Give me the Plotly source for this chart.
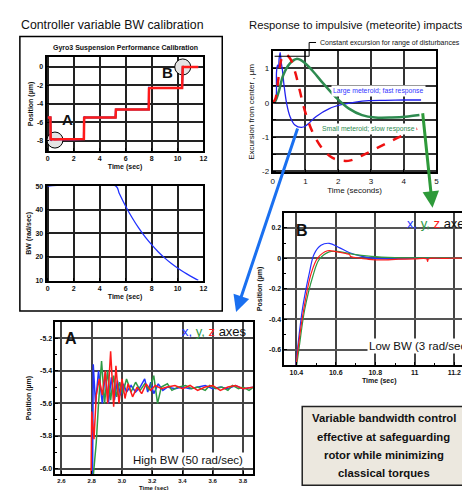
import plotly.graph_objects as go

W, H = 470, 490
AF = "Liberation Sans, Arial, sans-serif"

BLUE = "#2233ff"
GREEN = "#2e9a44"
RED = "#ff1a1a"

# ---------------- Panel 1: calibration steps ----------------
calib_t = [0, 0.2, 0.22, 0.3, 0.5, 1.0, 2.0, 2.78, 2.8, 2.85, 3.5, 4.5, 5.22, 5.25, 5.3, 6.5, 7.78, 7.8, 7.85, 9.0, 10.35, 10.4, 10.45, 11.6]
calib_x = [-5.45, -5.45, -7.95, -7.85, -7.8, -7.82, -7.85, -7.8, -5.35, -5.45, -5.45, -5.47, -5.45, -4.55, -4.6, -4.6, -4.6, -2.25, -2.27, -2.28, -2.27, 0.05, 0, 0]
calib_y = [-5.45, -5.45, -7.9, -7.75, -7.82, -7.8, -7.8, -7.8, -5.45, -5.45, -5.46, -5.45, -5.45, -4.6, -4.6, -4.6, -4.6, -2.3, -2.27, -2.27, -2.27, 0.1, 0, 0]
calib_z = [-5.45, -5.45, -7.9, -7.8, -7.85, -7.8, -7.82, -7.8, -5.4, -5.45, -5.45, -5.48, -5.45, -4.6, -4.6, -4.6, -4.6, -2.3, -2.27, -2.28, -2.27, 0, 0, 0]
calib_xticks = [0, 2, 4, 6, 8, 10, 12]
calib_yticks = [0, -2, -4, -6, -8]

# ---------------- Panel 2: bandwidth schedule ----------------
bw_t = [0, 5.25, 5.5, 6, 6.5, 7, 7.5, 8, 8.5, 9, 9.5, 10, 10.5, 11, 11.6]
bw_v = [50, 50, 47, 41.5, 36.6, 32.3, 28.5, 25.2, 22.2, 19.6, 17.3, 15.3, 13.5, 11.9, 10.1]
bw_yticks = [10, 20, 30, 40, 50]

# ---------------- Panel 3: meteorite impacts ----------------
met_t_fast = [0, 0.08, 0.12, 0.15, 0.18, 0.2, 0.23, 0.26, 0.3, 0.35, 0.43, 0.53, 0.68, 0.88, 1.03, 1.33, 1.73, 2.13, 2.53, 2.93, 3.43, 4.0, 4.53]
met_fast = [0, 0.02, 0.9, 1.1, 1.05, 1.3, 1.46, 1.2, 0.95, 0.5, -0.03, -0.4, -0.65, -0.72, -0.66, -0.4, -0.17, -0.05, 0.02, 0.06, 0.07, 0.08, 0.08]
met_t_slow = [0, 0.08, 0.18, 0.33, 0.53, 0.73, 0.93, 1.23, 1.53, 1.93, 2.33, 2.73, 3.13, 3.63, 4.13, 4.48]
met_slow = [0, 0.05, 0.3, 0.82, 1.15, 1.28, 1.2, 0.92, 0.58, 0.16, -0.17, -0.36, -0.43, -0.43, -0.4, -0.36]
met_t_mid = [0, 0.08, 0.18, 0.28, 0.38, 0.53, 0.68, 0.83, 0.98, 1.23, 1.53, 1.83, 2.13, 2.38, 2.73, 3.13, 3.63, 4.13, 4.53]
met_mid = [0, 0.1, 0.73, 1.3, 1.42, 1.3, 0.92, 0.35, -0.22, -0.88, -1.35, -1.61, -1.69, -1.68, -1.54, -1.35, -1.11, -0.88, -0.69]
met_xticks = [0, 1, 2, 3, 4, 5]
met_ygrid = [1.5, 1, 0.5, 0, -0.5, -1, -1.5, -2]
met_ylabels = ["", "1", "", "0", "", "-1", "", "-2"]

# ---------------- Panel B: low bandwidth response ----------------
b_tx = [10.397, 10.41, 10.433, 10.467, 10.49, 10.525, 10.567, 10.617, 10.667, 10.733, 10.8, 10.9, 11.0, 11.1, 11.2, 11.3]
b_x = [-0.72, -0.55, -0.316, -0.09, 0.028, 0.086, 0.099, 0.071, 0.039, 0.013, 0.0, -0.003, 0.0, 0.0, 0.0, 0.0]
b_ty = [10.4, 10.415, 10.442, 10.483, 10.517, 10.567, 10.617, 10.683, 10.78, 10.9, 11.0, 11.1, 11.2, 11.3]
b_y = [-0.72, -0.58, -0.34, -0.12, -0.005, 0.043, 0.045, 0.028, 0.013, 0.005, 0.003, 0.004, 0.002, 0.003]
b_tz = [10.398, 10.412, 10.437, 10.475, 10.508, 10.558, 10.6, 10.65, 10.67, 10.675, 10.7, 10.767, 10.833, 10.917, 11.0, 11.06, 11.065, 11.07, 11.15, 11.25, 11.255, 11.3]
b_z = [-0.72, -0.56, -0.34, -0.1, 0.002, 0.05, 0.045, 0.032, 0.025, 0.012, 0.006, -0.006, -0.01, -0.005, -0.003, -0.003, -0.02, -0.003, 0.0, -0.002, -0.012, 0.0]
b_xticks = [10.4, 10.6, 10.8, 11, 11.2]
b_xlabels = ["10.4", "10.6", "10.8", "11", "11.2"]
b_yticks = [0.2, 0, -0.2, -0.4, -0.6]
b_ylabels = ["0.2", "0", "-0.2", "-0.4", "-0.6"]

# ---------------- Panel A: high bandwidth response ----------------
a_tx = [2.795, 2.805, 2.81, 2.825, 2.845, 2.87, 2.89, 2.91, 2.93, 2.95, 2.97, 2.99, 3.01, 3.03, 3.06, 3.09, 3.12, 3.15, 3.17, 3.19, 3.21, 3.24, 3.27, 3.3, 3.35, 3.4, 3.45, 3.5, 3.55, 3.6, 3.65, 3.7, 3.75, 3.8, 3.87]
a_x = [-6.1, -6.1, -5.36, -5.6, -5.4, -5.6, -5.41, -5.6, -5.44, -5.58, -5.46, -5.55, -5.48, -5.53, -5.49, -5.53, -5.5, -5.45, -5.53, -5.47, -5.54, -5.48, -5.52, -5.5, -5.51, -5.5, -5.51, -5.5, -5.49, -5.51, -5.5, -5.51, -5.49, -5.51, -5.5]
a_ty = [2.805, 2.815, 2.83, 2.845, 2.865, 2.885, 2.905, 2.925, 2.945, 2.965, 2.985, 3.005, 3.03, 3.06, 3.09, 3.12, 3.15, 3.18, 3.21, 3.235, 3.26, 3.3, 3.33, 3.37, 3.42, 3.46, 3.5, 3.55, 3.58, 3.62, 3.66, 3.7, 3.73, 3.77, 3.8, 3.84, 3.87]
a_y = [-6.1, -6.0, -5.84, -5.6, -5.34, -5.6, -5.4, -5.58, -5.43, -5.56, -5.47, -5.54, -5.45, -5.53, -5.47, -5.52, -5.48, -5.52, -5.43, -5.6, -5.5, -5.48, -5.52, -5.5, -5.49, -5.51, -5.5, -5.52, -5.49, -5.51, -5.5, -5.52, -5.49, -5.51, -5.5, -5.52, -5.5]
a_tz = [2.795, 2.8, 2.815, 2.83, 2.85, 2.87, 2.89, 2.905, 2.925, 2.945, 2.96, 2.98, 3.0, 3.02, 3.04, 3.07, 3.1, 3.13, 3.16, 3.19, 3.22, 3.26, 3.3, 3.35, 3.4, 3.45, 3.5, 3.55, 3.6, 3.65, 3.7, 3.75, 3.8, 3.87]
a_z = [-6.1, -5.65, -5.82, -5.55, -5.45, -5.55, -5.4, -5.6, -5.28, -5.62, -5.37, -5.6, -5.45, -5.57, -5.48, -5.56, -5.5, -5.54, -5.48, -5.52, -5.49, -5.51, -5.5, -5.49, -5.51, -5.49, -5.52, -5.5, -5.49, -5.52, -5.5, -5.49, -5.51, -5.5]
a_xticks = [2.6, 2.8, 3.0, 3.2, 3.4, 3.6, 3.8]
a_xlabels = ["2.6", "2.8", "3.0", "3.2", "3.4", "3.6", "3.8"]
a_yticks = [-5.2, -5.4, -5.6, -5.8, -6.0]
a_ylabels = ["-5.2", "-5.4", "-5.6", "-5.8", "-6.0"]

conclusion_lines = ["Variable bandwidth control", "effective at safeguarding",
                    "rotor while minimizing", "classical torques"]


def px(x):
    return x / W


def py(y):
    return 1 - y / H


fig = go.Figure()


def add(x, y, ax, color, width, dash="solid", shape="linear"):
    fig.add_trace(go.Scatter(x=x, y=y, mode="lines", xaxis="x" + ax, yaxis="y" + ax,
                             line=dict(color=color, width=width, dash=dash, shape=shape),
                             showlegend=False, hoverinfo="skip"))

# panel 1
add(calib_t, calib_x, "", BLUE, 2)
add(calib_t, calib_y, "", GREEN, 1.5)
add(calib_t, calib_z, "", RED, 2.5)
# panel 2
add(bw_t, bw_v, "2", BLUE, 1.3, shape="spline")
# panel 3
add(met_t_fast, met_fast, "3", "#2222ee", 1.3, shape="spline")
add(met_t_slow, met_slow, "3", "#2e8b50", 2.5, shape="spline")
add(met_t_mid, met_mid, "3", "#ee1111", 2.5, dash="dash", shape="spline")
# panel B
add(b_tx, b_x, "4", BLUE, 1.2, shape="spline")
add(b_ty, b_y, "4", GREEN, 1.2, shape="spline")
add(b_tz, b_z, "4", RED, 1.2, shape="spline")
# panel A
add(a_tx, a_x, "5", BLUE, 1.5)
add(a_ty, a_y, "5", GREEN, 1.5)
add(a_tz, a_z, "5", RED, 1.5)

tick_b = dict(family=AF, size=7, color="#111", weight="bold")
tick_r = dict(family=AF, size=8, color="#111")
title_b = dict(family=AF, size=7, color="#111", weight="bold")
title_r = dict(family=AF, size=8, color="#111")


def axis(domain, rng, anchor, tickvals, title, ticktext=None, tickfont=tick_b, titlefont=title_b,
         gridcolor="#222", gw=1.5, minor=None, standoff=3):
    d = dict(domain=domain, range=rng, anchor=anchor, showgrid=True, gridcolor=gridcolor,
             gridwidth=gw, zeroline=False, showline=True, linecolor="#000", linewidth=1.8,
             mirror=True, ticks="inside", ticklen=3, tickcolor="#000", tickfont=tickfont,
             tickvals=tickvals, ticktext=ticktext if ticktext else [str(v) for v in tickvals],
             title=dict(text=title, font=titlefont, standoff=standoff))
    if minor:
        d["minor"] = minor
    return d

minor01 = dict(dtick=0.1, ticks="inside", ticklen=2, showgrid=False, tickcolor="#000")

fig.update_layout(
    width=W, height=H, margin=dict(l=0, r=0, t=0, b=0),
    paper_bgcolor="white", plot_bgcolor="white",
    xaxis=axis([px(37), px(196)], [-0.1, 12], "y", calib_xticks, "Time (sec)"),
    yaxis=axis([py(141), py(46)], [-9.05, 1.05], "x", calib_yticks, "Position (µm)"),
    xaxis2=axis([px(37), px(196)], [-0.1, 12], "y2", calib_xticks, "Time (sec)"),
    yaxis2=axis([py(273), py(177)], [10, 50], "x2", bw_yticks, "BW (rad/sec)"),
    xaxis3=axis([px(266), px(432)], [0, 5], "y3", met_xticks, "Time (seconds)", tickfont=tick_r,
                titlefont=title_r, gridcolor="#333"),
    yaxis3=axis([py(163), py(40)], [-2.03, 1.5], "x3", met_ygrid, "Excursion from center , µm",
                ticktext=met_ylabels, tickfont=tick_r, titlefont=title_r,
                gridcolor="#333", standoff=6),
    xaxis4=axis([px(278), 1.0], [10.34, 11.3], "y4", b_xticks, "Time (sec)", ticktext=b_xlabels,
                gridcolor="#444", minor=minor01),
    yaxis4=axis([py(359), py(204)], [-0.7, 0.3], "x4", b_yticks, "Position (µm)", ticktext=b_ylabels,
                gridcolor="#555", minor=minor01, standoff=6),
    xaxis5=axis([px(46), px(246)], [2.56, 3.865], "y5", a_xticks, "", ticktext=a_xlabels,
                gridcolor="#444", tickfont=dict(family=AF, size=6, color="#111", weight="bold")),
    yaxis5=axis([py(470), py(315)], [-6.035, -5.1], "x5", a_yticks, "Position (µm)", ticktext=a_ylabels,
                gridcolor="#444", minor=minor01, standoff=8),
)
fig.layout.xaxis5.ticklabelstandoff = 0

shapes = []
# outer box of the calibration panel
shapes.append(dict(type="rect", xref="paper", yref="paper", x0=px(10), x1=px(215), y0=py(304), y1=py(25),
                   line=dict(color="#000", width=1.5), layer="below"))
# circles in panel 1
for cx, cy in [(0.55, -7.9), (10.4, 0)]:
    shapes.append(dict(type="circle", xref="x", yref="y", xsizemode="pixel", ysizemode="pixel",
                       xanchor=cx, yanchor=cy, x0=-8, x1=8, y0=-8, y1=8,
                       fillcolor="#e4e4e4", line=dict(color="#000", width=1), layer="between"))
# bracket for constant excursion
shapes.append(dict(type="path", xref="paper", yref="paper",
                   path=f"M {px(268)} {py(45)} L {px(303)} {py(45)} L {px(303)} {py(31)} L {px(310)} {py(31)}",
                   line=dict(color="#000", width=1)))
# conclusion box
shapes.append(dict(type="rect", xref="paper", yref="paper", x0=px(296), x1=px(461), y0=py(481), y1=py(401),
                   fillcolor="#ece8df", line=dict(color="#222", width=1.5)))
fig.update_layout(shapes=shapes)

ann = []


def note(x, y, text, size, color="#111111", bold=False, xanchor="center", bg=None, yanchor="middle"):
    d = dict(xref="paper", yref="paper", x=px(x), y=py(y), text=text, showarrow=False,
             xanchor=xanchor, yanchor=yanchor,
             font=dict(family=AF, size=size, color=color, weight="bold" if bold else "normal"))
    if bg:
        d["bgcolor"] = bg
        d["borderpad"] = 1
    ann.append(d)

note(104, 13, "Controller variable BW calibration", 12.3)
note(350, 13, "Response to impulsive (meteorite) impacts", 11.3)
note(117, 37, "Gyro3 Suspension Performance Calibration", 7, bold=True)
note(58, 109, "A", 15, bold=True)
note(160, 61, "B", 15, bold=True)
note(312, 32, "Constant excursion for range of disturbances", 7, color="#111111", xanchor="left")
note(373, 80, "Large meteroid; fast response", 6.8, color="#3535ff", bg="white")
note(363, 119, "Small meteroid; slow response", 6.8, color="#2e8b50", bg="white")
xyz = ('<span style="color:#2233ff">x,</span> <span style="color:#2e9a44">y,</span> '
       '<span style="color:#ff1a1a">z</span> axes')
note(470, 215, xyz, 13, xanchor="right")
note(242, 325, xyz, 13, xanchor="right")
note(296, 222, "B", 16, bold=True)
note(62, 332, "A", 16, bold=True)
note(468, 340, "Low BW (3 rad/sec)", 11.5, xanchor="right", bg="white")
note(238, 455, "High BW (50 rad/sec)", 11.5, xanchor="right", bg="white")
note(146, 489, "Time (sec)", 6, bold=True, yanchor="bottom")
for i, line in enumerate(conclusion_lines):
    note(378.5, 413 + i * 18.7, line, 11.3, bold=True)

# arrows
ann.append(dict(xref="paper", yref="paper", x=px(229), y=py(305), ax=62, ay=-185, text="",
                showarrow=True, arrowhead=2, arrowsize=1.1, arrowwidth=3, arrowcolor="#1a70f0",
                axref="pixel", ayref="pixel"))
ann.append(dict(xref="paper", yref="paper", x=px(428), y=py(199), ax=-10, ay=-96, text="",
                showarrow=True, arrowhead=2, arrowsize=1.1, arrowwidth=3, arrowcolor="#2e9a3a",
                axref="pixel", ayref="pixel"))
fig.update_layout(annotations=ann)

fig.write_html("out.html")
